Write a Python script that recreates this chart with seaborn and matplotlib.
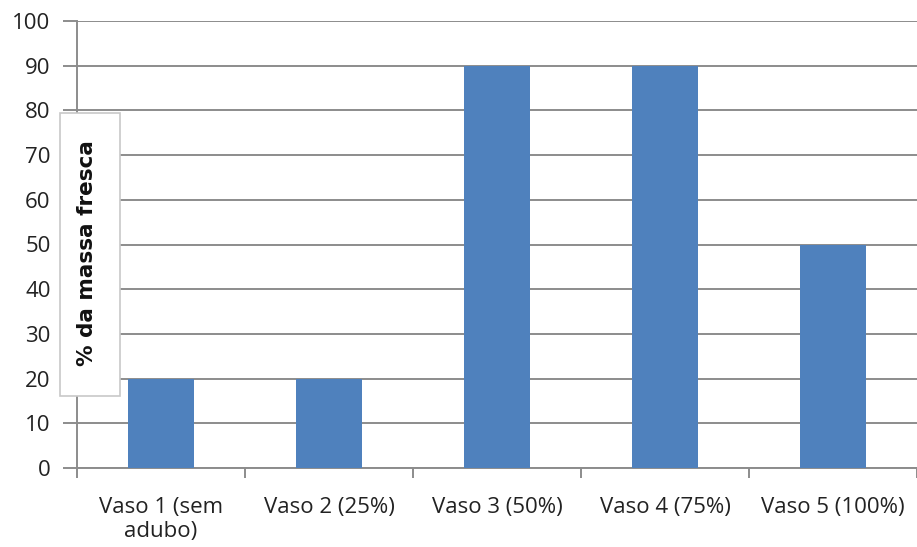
import matplotlib
matplotlib.use("Agg")
import matplotlib.pyplot as plt
from matplotlib.patches import Rectangle
import seaborn as sns
import pandas as pd

categories = ["Vaso 1 (sem\nadubo)", "Vaso 2 (25%)", "Vaso 3 (50%)", "Vaso 4 (75%)", "Vaso 5 (100%)"]
values = [20, 20, 90, 90, 50]
y_ticks = list(range(0, 101, 10))
y_label = "% da massa fresca"

sns.set_theme(style="white")
plt.rcParams["font.family"] = ["Open Sans", "DejaVu Sans"]

grid_color = "#8c8c8c"
bar_color = "#4f81bd"

df = pd.DataFrame({"categoria": categories, "valor": values})

fig = plt.figure(figsize=(9.17, 5.47), dpi=100)
ax = fig.add_axes([77 / 917, 1 - 468 / 547, 1 - 77 / 917, (468 - 21) / 547])

sns.barplot(data=df, x="categoria", y="valor", color=bar_color, width=0.39,
            saturation=1, linewidth=0, ax=ax, zorder=3)

ax.set_ylim(0, 100)
ax.set_xlim(-0.5, 4.453)
ax.set_yticks(y_ticks)
ax.set_xlabel("")
ax.set_ylabel("")

ax.yaxis.grid(True, color=grid_color, linewidth=1.4)
ax.set_axisbelow(True)
for side in ["top", "right"]:
    ax.spines[side].set_visible(False)
for side in ["left", "bottom"]:
    ax.spines[side].set_color(grid_color)
    ax.spines[side].set_linewidth(1.4)

ax.set_xticks([i + 0.5 for i in range(-1, 5)], minor=True)
ax.tick_params(axis="x", which="major", length=0, pad=21, labelsize=16, colors="#222222")
ax.tick_params(axis="x", which="minor", length=7, width=1.4, color=grid_color, bottom=True)
ax.tick_params(axis="y", length=10, width=1.4, color=grid_color, pad=9,
               labelsize=16, labelcolor="#222222", left=True)
for lbl in ax.get_xticklabels():
    lbl.set_linespacing(1.2)

# Axis title box overlapping the plot area
box = Rectangle((60 / 917, 1 - 396 / 547), 60 / 917, (396 - 113) / 547,
                transform=fig.transFigure, facecolor="white",
                edgecolor="#c8c8c8", linewidth=1.2, zorder=10)
fig.patches.append(box)
fig.text(87 / 917, 1 - 253 / 547, y_label, rotation=90, ha="center", va="center",
         fontsize=15.5, fontweight="bold", color="#111111", zorder=11,
         family=["DejaVu Sans"])

fig.savefig("out.png", dpi=100)
